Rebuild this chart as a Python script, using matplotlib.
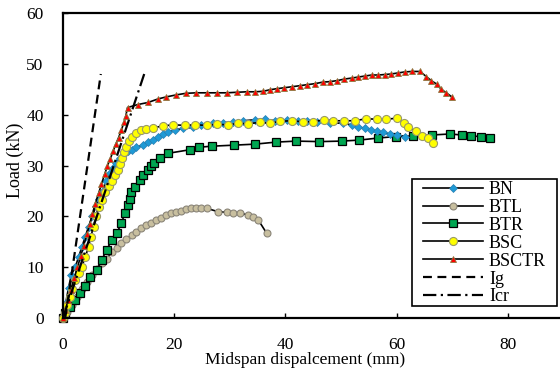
import matplotlib
matplotlib.use("Agg")
import matplotlib.pyplot as plt
from matplotlib.patches import Rectangle

plt.rcParams["font.family"] = ["Liberation Serif", "DejaVu Serif"]

# load-deflection curves, displacement in mm, load in kN
bn_x = [0, 0.5, 1.0, 1.5, 2.2, 2.8, 3.4, 4.0, 4.6, 5.3, 5.9, 6.5, 7.2, 7.8, 8.4, 9.0, 9.6,
        10.3, 11.0, 11.7, 12.4, 13.2, 14.3, 15.3, 16.2, 17.1, 18.0, 18.9, 20.1, 21.6, 23.4,
        24.9, 27.0, 28.8, 30.6, 32.4, 34.5, 36.3, 38.1, 40.2, 42.3, 43.8, 45.6, 48.0, 50.4,
        51.9, 53.1, 54.3, 55.4, 56.5, 57.6, 58.7, 60.0, 61.5]
bn_y = [0, 3.0, 6.0, 8.5, 10.0, 12.0, 14.0, 16.0, 18.0, 20.0, 22.0, 23.5, 25.0, 27.0, 28.5,
        29.5, 30.5, 31.5, 32.3, 32.8, 33.1, 33.6, 34.0, 34.6, 35.1, 35.7, 36.2, 36.6, 37.0,
        37.3, 37.5, 38.0, 38.3, 38.4, 38.6, 38.8, 39.0, 39.1, 38.8, 39.0, 38.8, 38.8, 38.6,
        38.4, 38.3, 38.0, 37.6, 37.3, 37.0, 36.7, 36.5, 36.2, 36.0, 35.7]

btl_x = [0, 0.66, 1.56, 2.46, 3.36, 4.25, 5.15, 6.06, 6.95, 7.85, 8.75, 9.65, 10.5, 11.4,
         12.4, 13.2, 14.1, 15.0, 15.9, 16.8, 17.7, 18.6, 19.5, 20.4, 21.3, 22.2, 23.1, 24.0,
         24.9, 25.8, 27.9, 29.4, 30.6, 31.8, 33.3, 34.2, 35.1, 36.6]
btl_y = [0, 1.2, 2.6, 4.2, 5.8, 7.1, 8.5, 9.6, 10.8, 11.7, 12.9, 13.7, 14.7, 15.5, 16.3,
         17.0, 17.8, 18.3, 18.7, 19.3, 19.7, 20.3, 20.6, 20.9, 21.1, 21.4, 21.6, 21.6, 21.6,
         21.6, 20.9, 20.8, 20.7, 20.6, 20.3, 19.9, 19.3, 16.7]

btr_x = [0, 0.36, 1.26, 2.16, 3.06, 3.96, 4.85, 6.06, 6.95, 7.85, 8.75, 9.65, 10.5, 11.1,
         11.6, 12.0, 12.3, 12.9, 13.8, 14.4, 15.3, 15.9, 16.4, 17.4, 18.9, 22.8, 24.5, 26.8,
         30.7, 34.5, 38.3, 41.9, 46.1, 50.1, 53.3, 56.6, 59.9, 62.9, 66.3, 69.6, 71.7, 73.4,
         75.1, 76.8]
btr_y = [0, 0.9, 2.2, 3.5, 4.9, 6.2, 8.1, 9.4, 11.4, 13.4, 15.3, 16.7, 18.6, 20.6, 22.3,
         23.5, 24.7, 25.8, 27.1, 28.1, 29.1, 29.9, 30.5, 31.4, 32.4, 33.1, 33.6, 33.8, 34.0,
         34.2, 34.6, 34.8, 34.7, 34.8, 35.0, 35.4, 35.7, 35.8, 36.0, 36.2, 36.0, 35.8, 35.7,
         35.4]

bsc_x = [0, 0.4, 0.8, 1.3, 1.7, 2.2, 2.8, 3.4, 4.0, 4.6, 5.0, 5.5, 5.9, 6.4, 7.0, 7.6, 8.2,
         8.8, 9.3, 9.8, 10.2, 10.6, 11.0, 11.4, 11.8, 12.4, 13.2, 14.1, 15.0, 16.2, 18.0,
         19.8, 21.9, 23.7, 25.8, 27.6, 29.7, 31.5, 33.3, 35.4, 37.2, 39.0, 41.1, 43.1, 45.0,
         47.0, 48.6, 50.6, 52.5, 54.5, 56.4, 58.1, 60.0, 61.3, 62.1, 63.5, 64.5, 65.6, 66.5]
bsc_y = [0, 0.9, 2.5, 4.2, 5.8, 7.5, 8.8, 10.1, 12.0, 14.0, 16.0, 18.0, 20.0, 21.9, 23.3,
         24.8, 26.0, 27.0, 28.1, 29.2, 30.3, 31.5, 32.6, 33.7, 34.8, 35.7, 36.3, 36.9, 37.2,
         37.4, 37.8, 38.0, 37.9, 38.0, 37.9, 38.1, 38.0, 38.3, 38.2, 38.5, 38.3, 38.7, 38.8,
         38.6, 38.6, 39.0, 38.8, 38.8, 38.8, 39.2, 39.1, 39.1, 39.3, 38.4, 37.5, 36.7, 35.8,
         35.4, 34.4]

bsctr_x = [0, 0.4, 0.9, 1.4, 2.0, 2.6, 3.2, 3.7, 4.3, 4.8, 5.3, 5.8, 6.4, 6.9, 7.5, 8.0,
           8.5, 9.0, 9.5, 10.0, 10.5, 11.0, 11.3, 11.6, 13.5, 15.3, 17.1, 18.6, 20.4, 22.1,
           24.0, 25.8, 27.6, 29.4, 31.2, 33.0, 34.6, 36.0, 37.2, 38.4, 39.8, 41.2, 42.6, 43.9,
           45.3, 46.7, 48.0, 49.3, 50.6, 51.9, 53.1, 54.3, 55.5, 56.7, 57.9, 59.0, 60.2, 61.4,
           62.7, 64.2, 65.3, 66.2, 67.2, 68.0, 68.9, 69.9]
bsctr_y = [0, 1.5, 3.5, 5.5, 7.8, 10.0, 12.2, 14.2, 16.5, 18.5, 20.5, 22.5, 24.5, 26.3, 28.3,
           30.0, 31.3, 32.8, 34.2, 35.5, 37.0, 38.6, 39.8, 41.4, 42.0, 42.4, 43.1, 43.5, 43.9,
           44.2, 44.3, 44.3, 44.3, 44.3, 44.4, 44.5, 44.5, 44.6, 44.9, 45.1, 45.3, 45.5, 45.7,
           45.9, 46.1, 46.4, 46.5, 46.7, 47.0, 47.2, 47.4, 47.6, 47.8, 47.8, 47.9, 48.0, 48.2,
           48.4, 48.5, 48.5, 47.5, 46.7, 46.0, 45.0, 44.3, 43.5]

# theoretical stiffness lines
ig_x = [0.4, 6.8]
ig_y = [0, 48]
icr_x = [0, 14.6]
icr_y = [0, 48]

fig = plt.figure(figsize=(5.6, 3.71), dpi=100)
ax = fig.add_axes([63 / 560, 53 / 371, 500.6 / 560, 305 / 371])

line_kw = dict(color="black", lw=1.2, clip_on=False)
h_btl, = ax.plot(btl_x, btl_y, marker="o", ms=5, mfc="#c8bf9f", mec="#8a8578", mew=0.8, **line_kw)
h_btr, = ax.plot(btr_x, btr_y, marker="s", ms=5.5, mfc="#00a651", mec="black", mew=0.9, **line_kw)
h_bn, = ax.plot(bn_x, bn_y, marker="D", ms=3.6, mfc="#1f9ad6", mec="#2a7fb0", mew=0.5, **line_kw)
h_bsc, = ax.plot(bsc_x, bsc_y, marker="o", ms=5.8, mfc="#ffff00", mec="#9a9a6a", mew=0.8, **line_kw)
h_bsctr, = ax.plot(bsctr_x, bsctr_y, marker="^", ms=5, mfc="#ff0000", mec="#8a7a40", mew=0.6, **line_kw)
h_ig, = ax.plot(ig_x, ig_y, color="black", lw=1.6, linestyle=(0, (4, 2.5)))
h_icr, = ax.plot(icr_x, icr_y, color="black", lw=1.6, linestyle=(0, (6, 2, 1, 2)))

ax.set_xlim(0, 90)
ax.set_ylim(0, 60)
ax.set_xticks([0, 20, 40, 60, 80])
ax.set_yticks([0, 10, 20, 30, 40, 50, 60])
ax.tick_params(axis="both", direction="in", length=3.5, width=1, labelsize=12.5, colors="black")
ax.tick_params(axis="x", pad=14)
ax.tick_params(axis="y", pad=14)
for side in ["left", "bottom", "top"]:
    ax.spines[side].set_linewidth(1.6)
ax.spines["right"].set_visible(False)

ax.set_xlabel("Midspan dispalcement (mm)", fontsize=12.5)
ax.xaxis.set_label_coords(0.483, -0.113)
ax.set_ylabel("Load (kN)", fontsize=13)
ax.yaxis.set_label_coords(-0.078, 0.518)

leg = ax.legend([h_bn, h_btl, h_btr, h_bsc, h_bsctr, h_ig, h_icr],
                ["BN", "BTL", "BTR", "BSC", "BSCTR", "Ig", "Icr"],
                loc="upper left", bbox_to_anchor=(423 / 560, 1 - 181 / 371),
                bbox_transform=fig.transFigure, frameon=False, fontsize=13,
                handlelength=3.3, handletextpad=0.35, labelspacing=0.05,
                borderpad=0, borderaxespad=0, numpoints=1)

fig.patches.append(Rectangle((412 / 560, 1 - 306 / 371), 145 / 560, 127 / 371,
                             transform=fig.transFigure, fill=False, edgecolor="black", lw=1.2))

fig.savefig("out.png", dpi=100)
